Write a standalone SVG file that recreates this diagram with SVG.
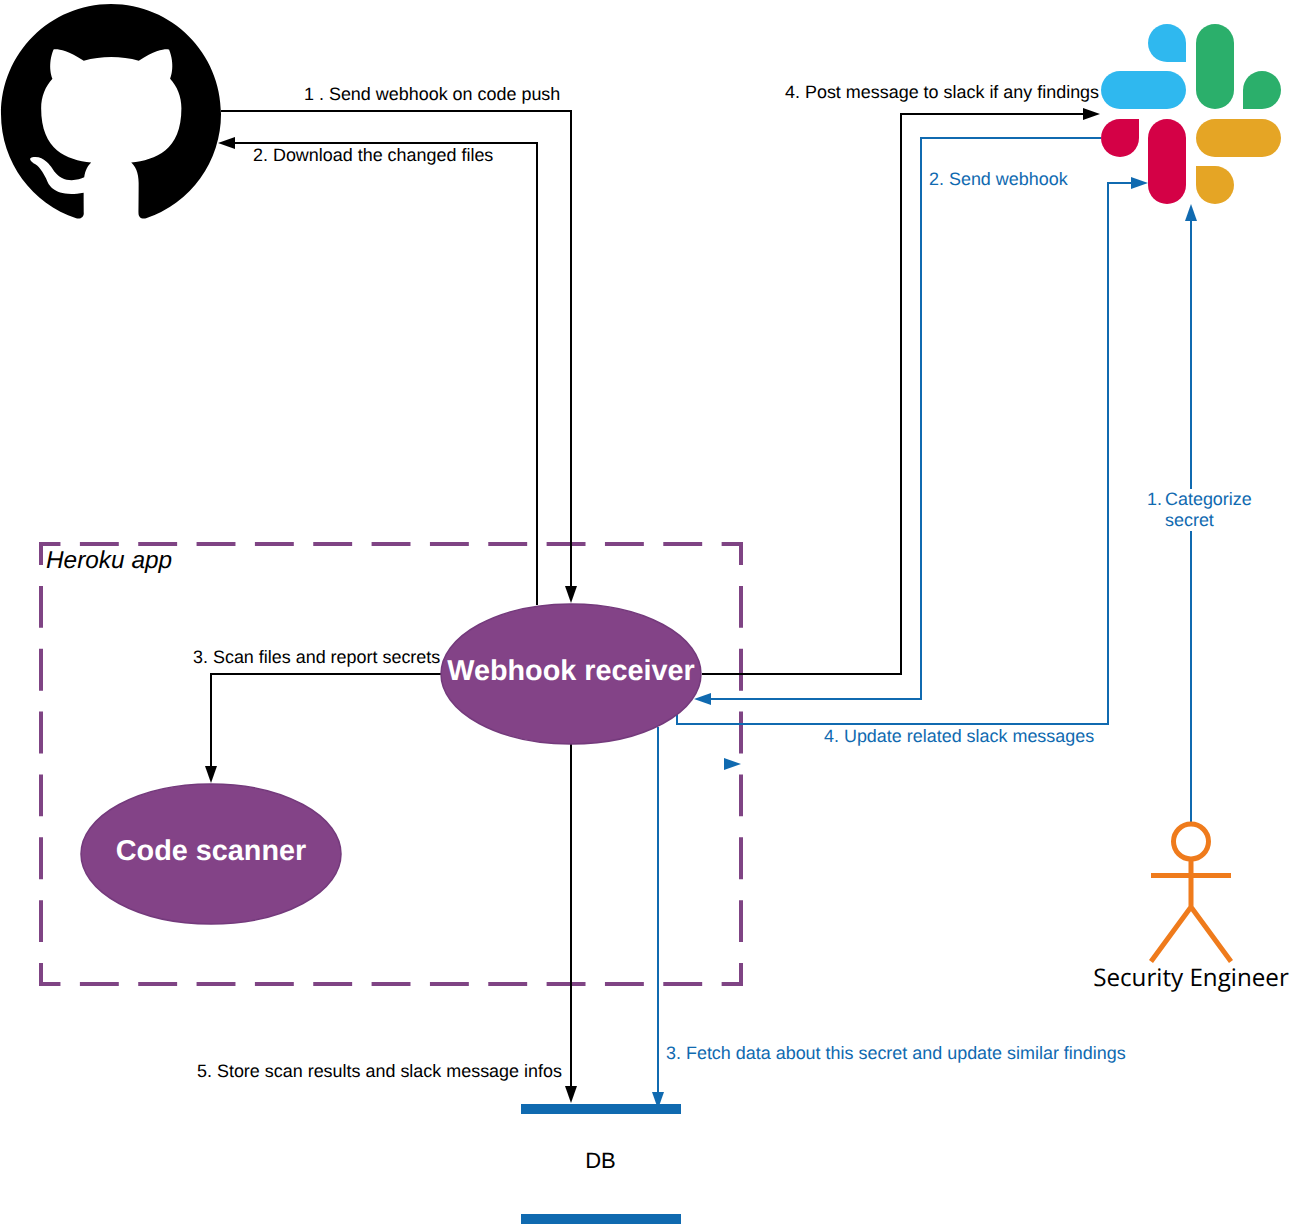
<svg xmlns="http://www.w3.org/2000/svg" width="1295" height="1227" viewBox="0 0 1295 1227">
<style>
text{font-family:"Liberation Sans",Arial,sans-serif;font-size:17.96px;fill:#000;text-rendering:geometricPrecision}
.b{fill:#106AB0}
.t{font-size:28.8px;font-weight:bold;fill:#fff;text-anchor:middle}
.e{fill:#834387;stroke:#743A7C;stroke-width:1.5}
.k{fill:none;stroke:#000;stroke-width:2}
.u{fill:none;stroke:#106AB0;stroke-width:2}
.sb{fill:#2FB8EF}.sg{fill:#2BAF6B}.sr{fill:#D40146}.sy{fill:#E5A525}
.o{fill:none;stroke:#EF7B1C;stroke-width:5}
.hd{stroke:#7F4484;stroke-width:4;stroke-dasharray:38.9 19.44;stroke-dashoffset:17.45}
.vd{stroke:#7F4484;stroke-width:4;stroke-dasharray:41.9 20.95;stroke-dashoffset:18.95}
</style>
<defs>
<marker id="ak" markerUnits="userSpaceOnUse" markerWidth="17" markerHeight="12" refX="13" refY="6" orient="auto"><path d="M0,0L17,6L0,12z" fill="#000"/></marker>
<marker id="au" markerUnits="userSpaceOnUse" markerWidth="17" markerHeight="12" refX="13" refY="6" orient="auto"><path d="M0,0L17,6L0,12z" fill="#106AB0"/></marker>
</defs>
<g id="github"><path transform="translate(1 4) scale(13.75)" fill="#000" d="M8 0C3.58 0 0 3.58 0 8c0 3.54 2.29 6.53 5.47 7.59.4.07.55-.17.55-.38 0-.19-.01-.82-.01-1.49-2.01.37-2.53-.49-2.69-.94-.09-.23-.48-.94-.82-1.13-.28-.15-.68-.52-.01-.53.63-.01 1.08.58 1.23.82.72 1.21 1.87.87 2.33.66.07-.52.28-.87.51-1.07-1.78-.2-3.64-.89-3.64-3.95 0-.87.31-1.59.82-2.15-.08-.2-.36-1.02.08-2.12 0 0 .67-.21 2.2.82.64-.18 1.32-.27 2-.27.68 0 1.36.09 2 .27 1.53-1.04 2.2-.82 2.2-.82.44 1.1.16 1.92.08 2.12.51.56.82 1.27.82 2.15 0 3.07-1.87 3.75-3.65 3.95.29.25.54.73.54 1.48 0 1.07-.01 1.93-.01 2.2 0 .21.15.46.55.38A8.013 8.013 0 0016 8c0-4.42-3.58-8-8-8z"/></g>
<g id="slack">
<rect class="sb" x="1101" y="71" width="85" height="38" rx="19"/>
<path class="sb" d="M1186,62H1167A19,19 0 1 1 1186,43z"/>
<rect class="sg" x="1196" y="24" width="38" height="85" rx="19"/>
<path class="sg" d="M1243,109V90A19,19 0 1 1 1262,109z"/>
<rect class="sr" x="1148" y="119" width="38" height="85" rx="19"/>
<path class="sr" d="M1139,119V138A19,19 0 1 1 1120,119z"/>
<rect class="sy" x="1196" y="119" width="85" height="38" rx="19"/>
<path class="sy" d="M1196,166H1215A19,19 0 1 1 1196,185z"/>
</g>
<g id="heroku">
<path class="hd" d="M39,544H743"/><path class="hd" d="M39,984H743"/>
<path class="vd" d="M41,542V986"/><path class="vd" d="M741,542V986"/>
<text x="46" y="568" font-style="italic" style="font-size:24.4px">Heroku app</text></g>
<g id="connectors">
<path class="k" marker-end="url(#ak)" d="M221,111H571V599"/>
<path class="k" marker-end="url(#ak)" d="M537,605V143H222"/>
<path class="k" marker-end="url(#ak)" d="M702,674H901V114H1096"/>
<path class="k" marker-end="url(#ak)" d="M441,674H211V779"/>
<path class="k" marker-end="url(#ak)" d="M571,744V1099"/>
<path class="u" marker-end="url(#au)" d="M1101,138H921V699H698"/>
<path class="u" marker-end="url(#au)" d="M677,714V724H1108V183H1144"/>
<path class="u" marker-end="url(#au)" d="M658,727V1105"/>
<path class="u" marker-end="url(#au)" d="M1191,823V208"/>
<path d="M724,758L741,764L724,770z" fill="#106AB0"/>
<rect x="1147" y="489" width="105" height="42" fill="#fff"/>
<text x="304" y="100">1 . Send webhook on code push</text>
<text x="253" y="161">2. Download the changed files</text>
<text x="785" y="98">4. Post message to slack if any findings</text>
<text x="193" y="663">3. Scan files and report secrets</text>
<text x="197" y="1077">5. Store scan results and slack message infos</text>
<text class="b" x="929" y="185">2. Send webhook</text>
<text class="b" x="824" y="742">4. Update related slack messages</text>
<text class="b" x="666" y="1059">3. Fetch data about this secret and update similar findings</text>
<text class="b" x="1147" y="505">1. <tspan x="1165">Categorize</tspan></text>
<text class="b" x="1165" y="526">secret</text>
</g>
<g id="webhook"><ellipse class="e" cx="571" cy="674" rx="130" ry="70"/><text class="t" x="571" y="680">Webhook receiver</text></g>
<g id="scanner"><ellipse class="e" cx="211" cy="854" rx="130" ry="70"/><text class="t" x="211" y="860">Code scanner</text></g>
<g id="db"><rect x="521" y="1104" width="160" height="10" fill="#106AB0"/><rect x="521" y="1214" width="160" height="10" fill="#106AB0"/><text x="600.5" y="1168" text-anchor="middle" style="font-size:22px">DB</text></g>
<g id="engineer"><circle class="o" cx="1191" cy="841.5" r="17.5"/><path class="o" d="M1191,859V907M1151,875.5H1231M1151,961.5L1191,907L1231,961.5"/><text x="1191" y="986" text-anchor="middle" style="font-family:'Open Sans',sans-serif;font-size:24.2px">Security Engineer</text></g>
</svg>
